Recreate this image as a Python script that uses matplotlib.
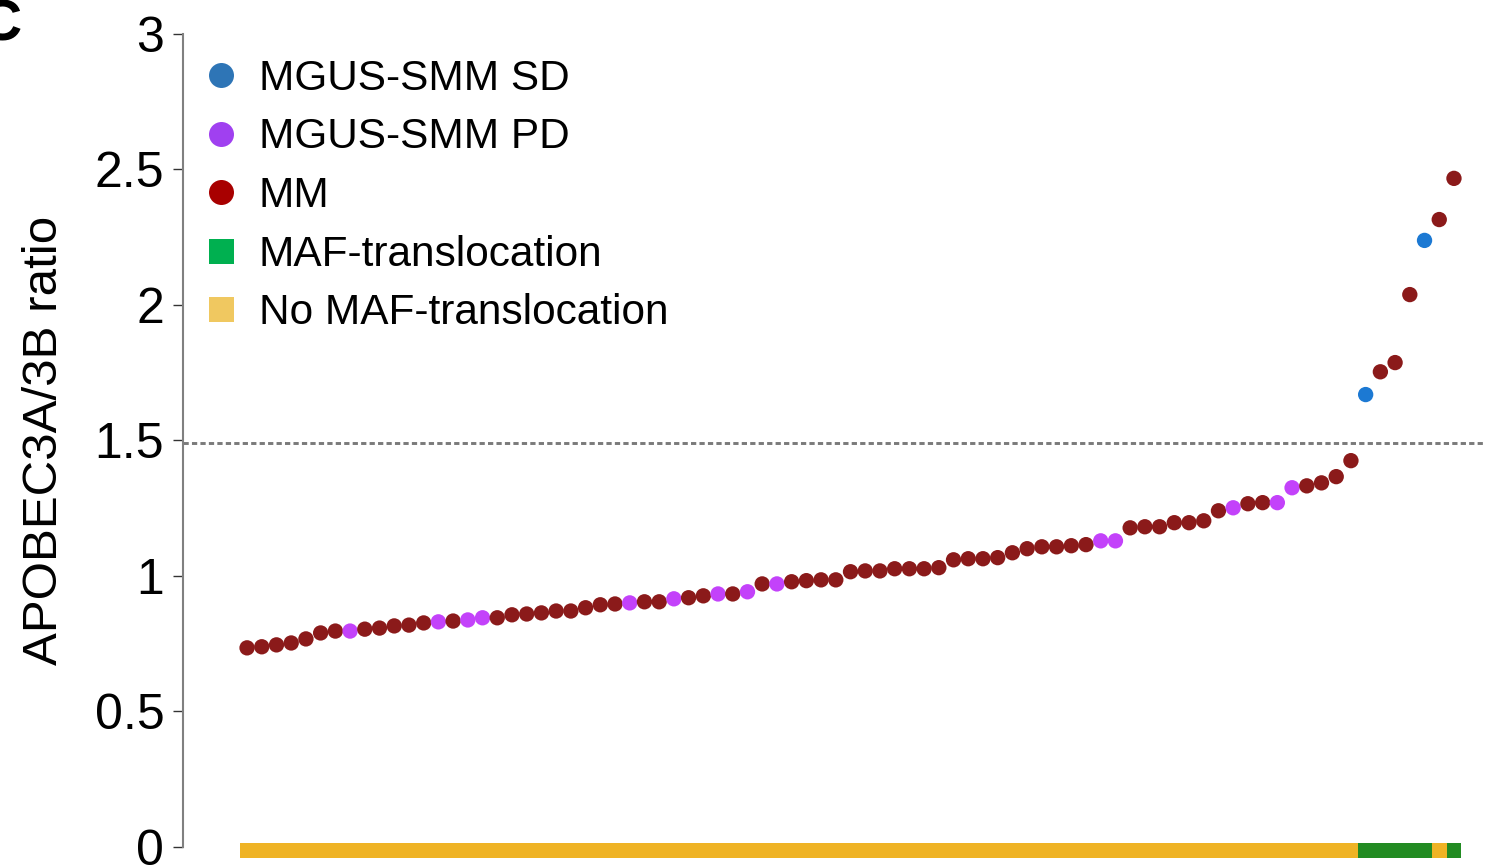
import matplotlib
matplotlib.use("Agg")
import matplotlib.pyplot as plt
from matplotlib.lines import Line2D
import numpy as np

plt.rcParams['font.family'] = ['Liberation Sans', 'DejaVu Sans']

# APOBEC3A/3B expression ratio per sample, sorted ascending
ratio = [0.734, 0.738, 0.745, 0.752, 0.767, 0.789, 0.796, 0.796, 0.803, 0.807,
         0.815, 0.818, 0.826, 0.830, 0.833, 0.837, 0.845, 0.845, 0.856, 0.859,
         0.863, 0.870, 0.870, 0.882, 0.893, 0.896, 0.900, 0.904, 0.904, 0.915,
         0.919, 0.926, 0.933, 0.933, 0.941, 0.970, 0.970, 0.978, 0.982, 0.985,
         0.985, 1.015, 1.018, 1.018, 1.026, 1.026, 1.026, 1.030, 1.059, 1.063,
         1.063, 1.067, 1.085, 1.100, 1.107, 1.107, 1.111, 1.115, 1.129, 1.129,
         1.177, 1.181, 1.181, 1.196, 1.196, 1.203, 1.240, 1.251, 1.266, 1.270,
         1.270, 1.325, 1.332, 1.343, 1.366, 1.425, 1.669, 1.753, 1.787, 2.038,
         2.238, 2.315, 2.467]

# Disease stage per sample
stage = ["MM"] * len(ratio)
for i in [7, 13, 15, 16, 26, 29, 32, 34, 36, 58, 59, 67, 70, 71]:
    stage[i] = "PD"
for i in [76, 80]:
    stage[i] = "SD"

# MAF translocation status per sample (1 = translocated)
maf = [0] * len(ratio)
for i in [76, 77, 78, 79, 80, 82]:
    maf[i] = 1

threshold = 1.49

legend_labels = ["MGUS-SMM SD", "MGUS-SMM PD", "MM", "MAF-translocation", "No MAF-translocation"]

point_colors = {"SD": "#1c79d3", "PD": "#c342fa", "MM": "#8b1a1a"}
legend_colors = ["#2e75b6", "#a040f0", "#a80000", "#00b050", "#f0c860"]
bar_colors = {0: "#efb325", 1: "#228b22"}

fig = plt.figure(figsize=(14.99, 8.67), dpi=100)
ax = fig.add_axes([0.1221, 0.02341, 0.8672, 0.9374])

x = np.arange(len(ratio))
ax.scatter(x, ratio, s=122, c=[point_colors[g] for g in stage],
           linewidths=0, zorder=3)

# translocation status strip underneath the samples
ax.bar(x, 0.056, bottom=-0.042, width=1.0,
       color=[bar_colors[m] for m in maf], linewidth=0, clip_on=False, zorder=2)

ax.axhline(threshold, color="#7a7a7a", lw=2.1, linestyle=(0, (1.8, 1.1)), zorder=1)

ax.set_xlim(-4.35, 83.97)
ax.set_ylim(0, 3)
ax.set_yticks([0, 0.5, 1, 1.5, 2, 2.5, 3])
ax.set_yticklabels(["0", "0.5", "1", "1.5", "2", "2.5", "3"])
ax.tick_params(axis="y", labelsize=36, length=7.5, width=1, color="#333333", pad=6)
ax.set_xticks([])
for side in ["top", "right", "bottom"]:
    ax.spines[side].set_visible(False)
ax.spines["left"].set_color("#808080")
ax.spines["left"].set_linewidth(1.5)

ax.set_ylabel("APOBEC3A/3B ratio", fontsize=35.5)
ax.yaxis.set_label_coords(-0.089, 0.5)

handles = [
    Line2D([], [], marker="o", ls="", ms=18, mew=0, color=legend_colors[0]),
    Line2D([], [], marker="o", ls="", ms=18, mew=0, color=legend_colors[1]),
    Line2D([], [], marker="o", ls="", ms=18, mew=0, color=legend_colors[2]),
    Line2D([], [], marker="s", ls="", ms=18, mew=0, color=legend_colors[3]),
    Line2D([], [], marker="s", ls="", ms=18, mew=0, color=legend_colors[4]),
]
ax.legend(handles, legend_labels, loc="upper left", bbox_to_anchor=(-0.0100, 1.006),
          frameon=False, fontsize=30.5, handlelength=1.0, handletextpad=0.4,
          labelspacing=0.44, borderaxespad=0.3)

fig.text(-0.0137, 0.953, "C", fontsize=42, fontweight="bold", ha="left", va="baseline")

fig.savefig("out.png", dpi=100)
